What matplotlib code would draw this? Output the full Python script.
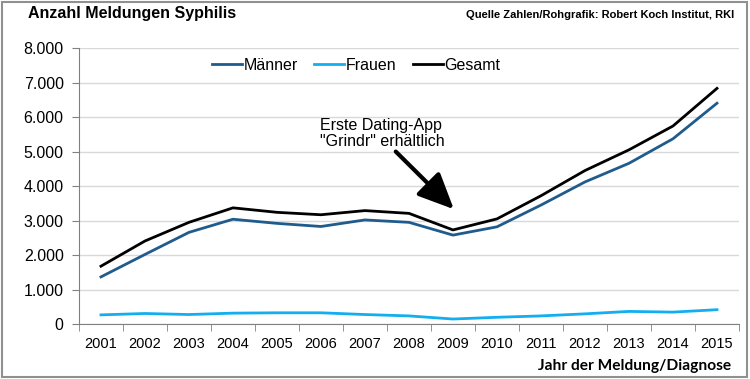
import matplotlib.pyplot as plt
from matplotlib.patches import Rectangle
from matplotlib.ticker import FuncFormatter

years = [str(y) for y in range(2001, 2016)]
maenner = [1370, 2020, 2660, 3040, 2920, 2830, 3020, 2950, 2580, 2820, 3450, 4120, 4660, 5370, 6400]
frauen = [270, 310, 280, 320, 330, 330, 280, 240, 150, 200, 240, 300, 370, 350, 420]
gesamt = [1680, 2410, 2950, 3370, 3240, 3170, 3290, 3210, 2730, 3050, 3720, 4450, 5050, 5740, 6830]

plt.rcParams['font.family'] = ['Liberation Sans', 'DejaVu Sans']

fig = plt.figure(figsize=(7.5, 3.79), dpi=100)
ax = fig.add_axes([0.1053, 0.1446, 0.88, 0.7288])

x = list(range(len(years)))
ax.plot(x, maenner, color='#1f5b8c', lw=2, label='Männer')
ax.plot(x, frauen, color='#12aef0', lw=2, label='Frauen')
ax.plot(x, gesamt, color='black', lw=2, label='Gesamt')

ax.set_xlim(-0.5, len(years) - 0.5)
ax.set_ylim(0, 8000)
ax.set_yticks(range(0, 8001, 1000))
ax.yaxis.set_major_formatter(FuncFormatter(lambda v, p: f'{int(v):,}'.replace(',', '.')))
ax.set_xticks(x)
ax.set_xticklabels(years)
ax.set_xticks([i - 0.5 for i in range(len(years) + 1)], minor=True)

ax.grid(axis='y', color='#d9d9d9', lw=1)
ax.set_axisbelow(True)
for s in ['top', 'right']:
    ax.spines[s].set_visible(False)
for s in ['left', 'bottom']:
    ax.spines[s].set_color('#808080')
ax.tick_params(axis='y', colors='#808080', labelcolor='black', labelsize=11.5, length=5, pad=6)
ax.tick_params(axis='x', which='major', length=0, labelsize=10.5, pad=9)
ax.tick_params(axis='x', which='minor', colors='#808080', length=5)

ax.legend(loc='center', bbox_to_anchor=(0.42, 0.938), ncol=3, frameon=False,
          fontsize=11.5, handlelength=1.9, handletextpad=0.1, columnspacing=1.0)

# annotation
ax.text(4.98, 5970, 'Erste Dating-App\n"Grindr" erhältlich', fontsize=11.5,
        va='top', ha='left', linespacing=1.1)
ax.annotate('', xy=(8.02, 3330), xytext=(6.7, 5000),
            arrowprops=dict(arrowstyle='-|>,head_length=2.2,head_width=1.0',
                            color='black', lw=3, shrinkA=0, shrinkB=0))

fig.text(0.037, 0.965, 'Anzahl Meldungen Syphilis', fontsize=11.5, fontweight='bold',
         va='center', ha='left')
fig.text(0.979, 0.96, 'Quelle Zahlen/Rohgrafik: Robert Koch Institut, RKI', fontsize=8,
         fontweight='bold', va='center', ha='right')
fig.text(0.975, 0.035, 'Jahr der Meldung/Diagnose', fontsize=11.2, fontweight='bold',
         family=['Lato', 'DejaVu Sans'], va='center', ha='right')

fig.patches.append(Rectangle((0.002, 0.004), 0.994, 0.992, transform=fig.transFigure,
                             fill=False, edgecolor='#909090', lw=1.5))

fig.savefig('out.png', dpi=100)
